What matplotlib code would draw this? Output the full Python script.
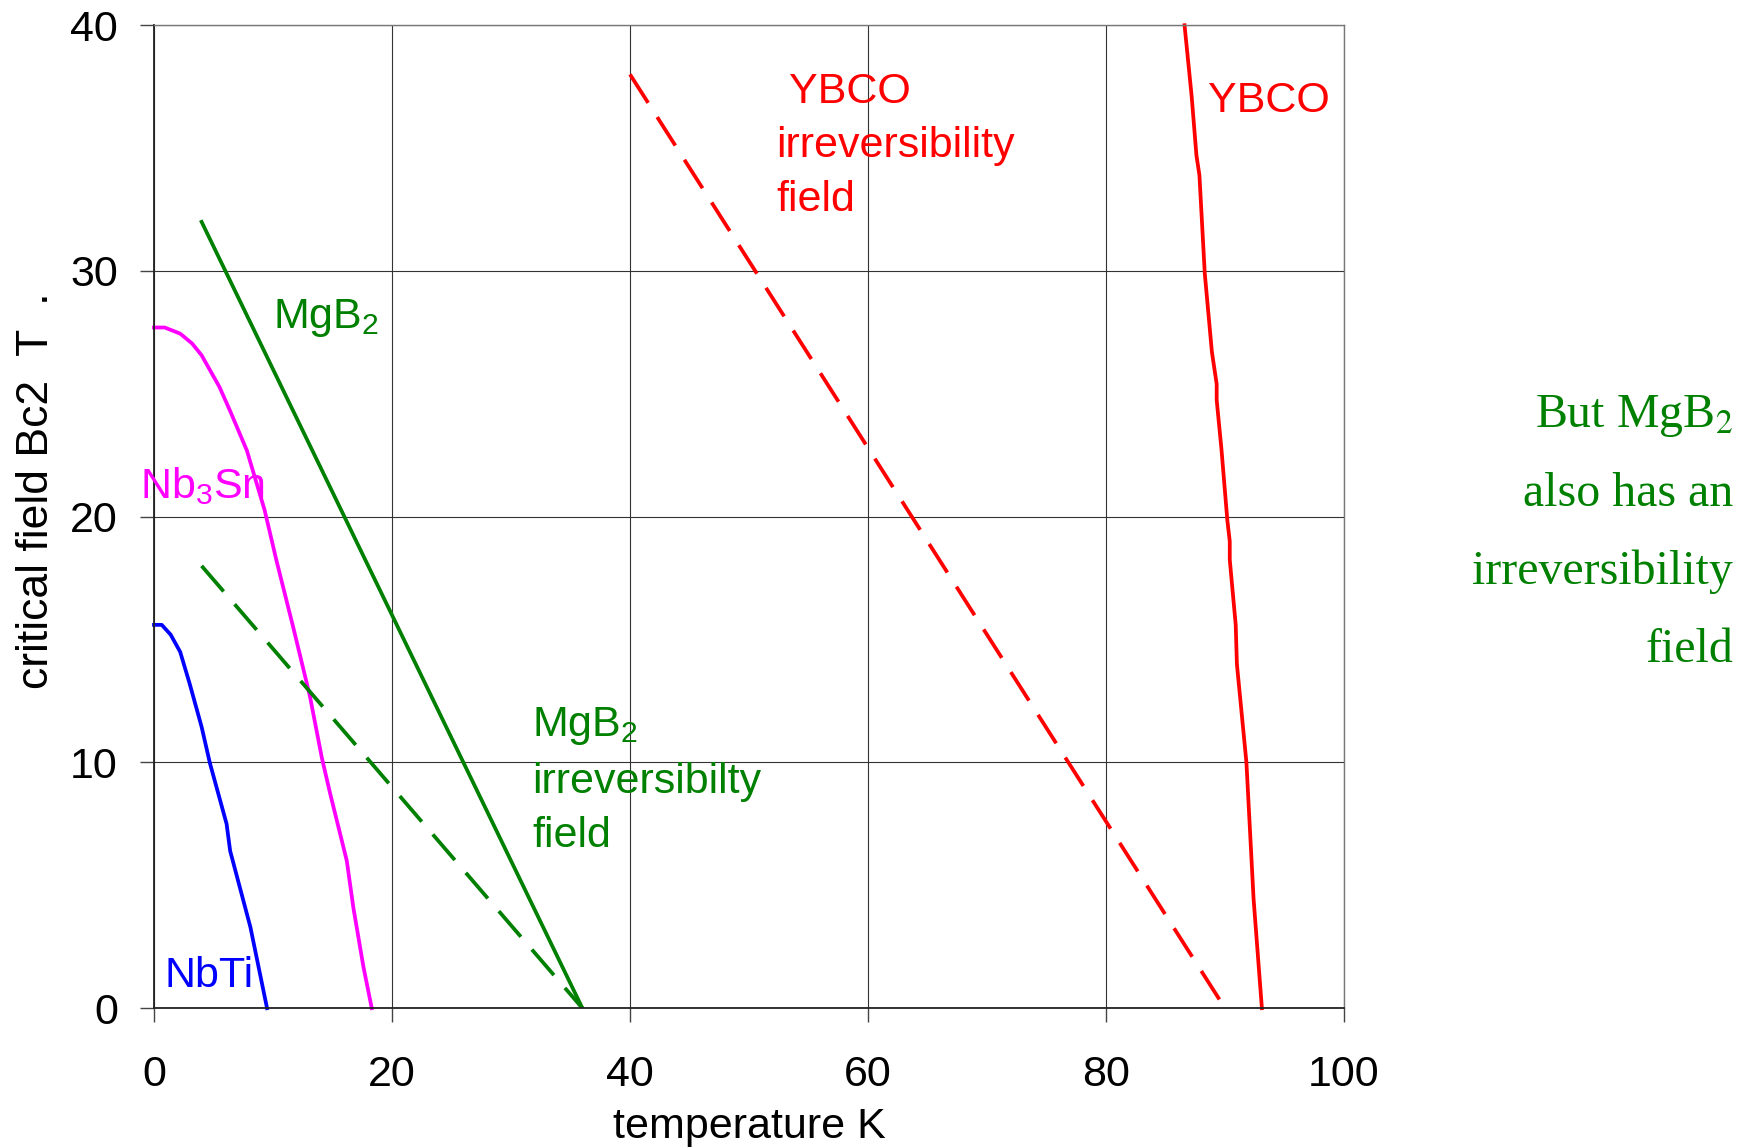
import matplotlib
matplotlib.use("Agg")
import matplotlib.pyplot as plt

# ---- data ----
nbti_T = [0.0, 0.65, 1.4, 2.2, 3.0, 4.0, 4.7, 6.1, 6.4, 8.1, 9.5]
nbti_B = [15.6, 15.6, 15.2, 14.5, 13.2, 11.45, 9.97, 7.5, 6.4, 3.3, 0.0]

nb3sn_T = [0.0, 0.9, 2.2, 3.2, 4.0, 5.5, 6.4, 7.8, 9.3, 10.3, 11.7, 13.1, 14.1, 14.8, 16.2, 16.75, 17.6, 18.3]
nb3sn_B = [27.7, 27.7, 27.45, 27.05, 26.57, 25.28, 24.3, 22.7, 20.26, 18.2, 15.5, 12.7, 10.2, 8.74, 6.0, 4.1, 1.68, 0.0]

mgb2_T = [4.0, 36.0]
mgb2_B = [32.0, 0.0]

mgb2_irr_T = [4.0, 36.0]
mgb2_irr_B = [18.0, 0.0]

ybco_irr_T = [40.0, 90.0]
ybco_irr_B = [38.0, 0.0]

ybco_T = [86.6, 87.2, 87.6, 87.85, 88.3, 88.9, 89.3, 89.3, 89.7, 90.2, 90.4, 90.4, 90.9, 91.0, 91.8, 92.4, 93.1]
ybco_B = [40.0, 37.1, 34.7, 33.9, 29.9, 26.7, 25.4, 24.75, 22.76, 19.84, 19.0, 18.25, 15.6, 14.0, 10.0, 4.46, 0.0]

x_ticks = [0, 20, 40, 60, 80, 100]
y_ticks = [0, 10, 20, 30, 40]

GREEN = "#008000"
SANS = "Liberation Sans"
SERIF = "Liberation Serif"

plt.rcParams["font.family"] = [SANS, "DejaVu Sans"]
plt.rcParams["mathtext.fontset"] = "custom"
plt.rcParams["mathtext.rm"] = SANS
plt.rcParams["mathtext.it"] = SANS

fig = plt.figure(figsize=(17.5, 11.47), dpi=100)
ax = fig.add_axes([0.088, 0.121, 0.680, 0.857])

ax.set_xlim(0, 100)
ax.set_ylim(0, 40)
ax.set_xticks(x_ticks)
ax.set_yticks(y_ticks)
ax.grid(True, color="#333333", linewidth=0.8)
ax.set_axisbelow(True)
for s in ["top", "right"]:
    ax.spines[s].set_color("#777777")
    ax.spines[s].set_linewidth(1.0)
for s in ["left", "bottom"]:
    ax.spines[s].set_color("#222222")
    ax.spines[s].set_linewidth(1.3)
ax.tick_params(axis="both", labelsize=31, length=10, width=1.0, color="#444444")
ax.tick_params(axis="x", pad=24)
ax.tick_params(axis="y", pad=16)

LW = 2.7
ax.plot(nbti_T, nbti_B, color="#0000FF", lw=LW, clip_on=False)
ax.plot(nb3sn_T, nb3sn_B, color="#FF00FF", lw=LW, clip_on=False)
ax.plot(mgb2_T, mgb2_B, color=GREEN, lw=LW)
ax.plot(mgb2_irr_T, mgb2_irr_B, color=GREEN, lw=LW, dashes=(9, 4.5))
ax.plot(ybco_irr_T, ybco_irr_B, color="#FF0000", lw=LW, dashes=(9, 4.5))
ax.plot(ybco_T, ybco_B, color="#FF0000", lw=LW, clip_on=False)

fs = 31
ax.text(10.0, 28.1, r"MgB$_2$", color=GREEN, fontsize=fs, ha="left", va="center")
ax.text(-1.2, 21.25, r"Nb$_3$Sn", color="#FF00FF", fontsize=fs, ha="left", va="center")
ax.text(0.9, 1.3, "NbTi", color="#0000FF", fontsize=fs, ha="left", va="center")
ax.text(88.6, 36.9, "YBCO", color="#FF0000", fontsize=fs, ha="left", va="center")
ax.text(53.4, 37.3, "YBCO", color="#FF0000", fontsize=fs, ha="left", va="center")
ax.text(52.3, 35.1, "irreversibility", color="#FF0000", fontsize=fs, ha="left", va="center")
ax.text(52.3, 32.9, "field", color="#FF0000", fontsize=fs, ha="left", va="center")
ax.text(31.8, 11.5, r"MgB$_2$", color=GREEN, fontsize=fs, ha="left", va="center")
ax.text(31.8, 9.2, "irreversibilty", color=GREEN, fontsize=fs, ha="left", va="center")
ax.text(31.8, 7.0, "field", color=GREEN, fontsize=fs, ha="left", va="center")

ax.set_xlabel("temperature K", fontsize=31, labelpad=8)
ax.text(-0.099, 0.526, "critical field Bc2  T  .", rotation=90, fontsize=32,
        ha="center", va="center", transform=ax.transAxes)

serif_lines = ["But MgB$_2$", "also has an", "irreversibility", "field"]
ys = [416, 494, 572, 650]
for t, yp in zip(serif_lines, ys):
    fig.text(1733 / 1750, 1 - yp / 1147, t, color=GREEN, fontsize=34.5,
             family=[SERIF, "DejaVu Serif"], ha="right", va="center",
             math_fontfamily="stix")

fig.savefig("out.png", dpi=100)
